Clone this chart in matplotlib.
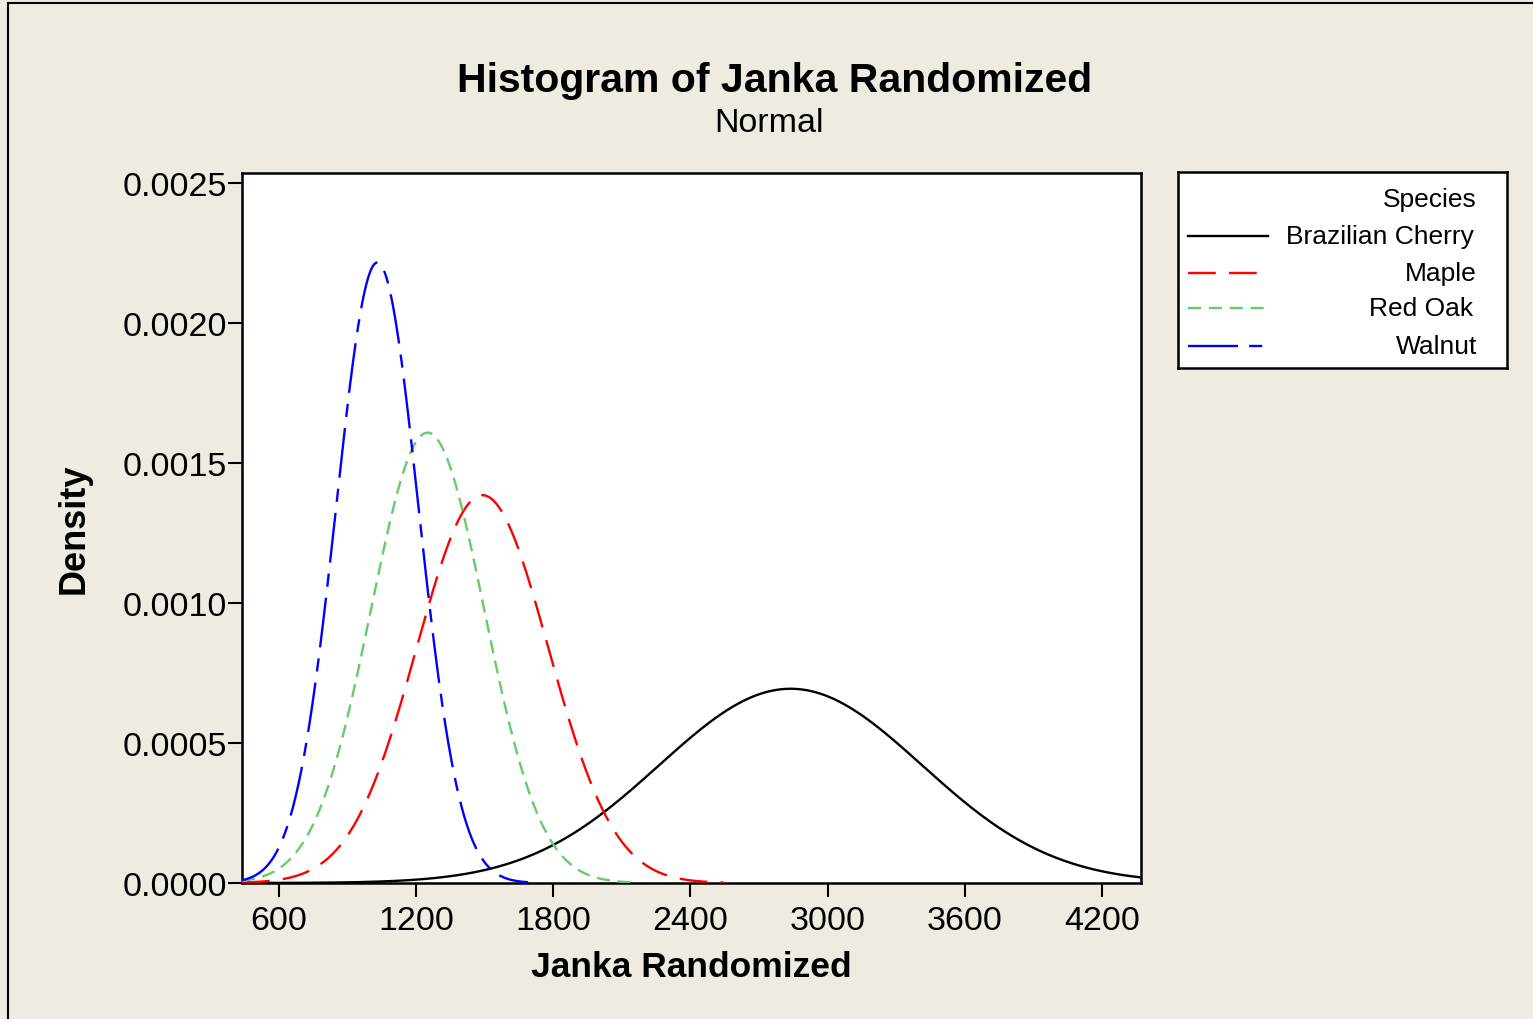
import numpy as np
import matplotlib
matplotlib.use("Agg")
import matplotlib.pyplot as plt
from matplotlib.lines import Line2D

plt.rcParams['lines.scale_dashes'] = False
plt.rcParams['font.family'] = ['Liberation Sans', 'DejaVu Sans']

# ---- data (normal fits) ----
species = ["Brazilian Cherry", "Maple", "Red Oak", "Walnut"]
means = [2838, 1490, 1250, 1030]
sds = [575, 288, 248, 180]
x_start = [438, 438, 438, 438]
x_end = [4371, 2545, 2150, 1690]
colors = ["#000000", "#FF0000", "#66CC66", "#0000FF"]
dashes = [None, (20, 9.5), (9.5, 5.5), (36, 8, 9.5, 8)]

x_ticks = [600, 1200, 1800, 2400, 3000, 3600, 4200]
y_ticks = [0.0000, 0.0005, 0.0010, 0.0015, 0.0020, 0.0025]

W, H = 1533, 1020
bg = "#EFEBE0"
fig = plt.figure(figsize=(W / 100, H / 100), dpi=100, facecolor=bg)

# figure border (left and top visible)
fig.add_artist(Line2D([7.5 / W, 7.5 / W], [0, 1 - 3.5 / H], transform=fig.transFigure, color="black", lw=1.5))
fig.add_artist(Line2D([7.5 / W, 1], [1 - 3.5 / H, 1 - 3.5 / H], transform=fig.transFigure, color="black", lw=1.5))

ax = fig.add_axes([242 / W, 1 - 884 / H, (1141 - 242) / W, (884 - 174) / H])
ax.set_facecolor("white")

for name, m, s, x0, x1, c, d in zip(species, means, sds, x_start, x_end, colors, dashes):
    x = np.linspace(x0, x1, 600)
    y = np.exp(-0.5 * ((x - m) / s) ** 2) / (s * np.sqrt(2 * np.pi))
    ln, = ax.plot(x, y, color=c, lw=1.7, zorder=3)
    if d is not None:
        ln.set_dashes(d)

ax.set_xlim(438, 4371)
ax.set_ylim(0, 0.002536)
ax.set_xticks(x_ticks)
ax.set_xticklabels([str(v) for v in x_ticks])
ax.set_yticks(y_ticks)
ax.set_yticklabels([f"{v:.4f}" for v in y_ticks])
ax.tick_params(axis="both", direction="out", length=10, width=1.5, labelsize=24.5, colors="black")
ax.tick_params(axis="y", pad=1)
ax.tick_params(axis="x", pad=6)
for sp in ax.spines.values():
    sp.set_linewidth(1.8)

ax.set_xlabel("Janka Randomized", fontsize=25.5, fontweight="bold", labelpad=10)
ax.set_ylabel("Density", fontsize=26, fontweight="bold", labelpad=22)

fig.text(775 / W, 1 - 81 / H, "Histogram of Janka Randomized", ha="center", va="center",
         fontsize=29.5, fontweight="bold")
fig.text(769 / W, 1 - 124 / H, "Normal", ha="center", va="center", fontsize=24.5)

# ---- legend box ----
lx0, lx1, ly0, ly1 = 1178, 1507, 173, 369
lax = fig.add_axes([lx0 / W, 1 - ly1 / H, (lx1 - lx0) / W, (ly1 - ly0) / H])
lax.set_xlim(lx0, lx1)
lax.set_ylim(ly1, ly0)
lax.set_xticks([])
lax.set_yticks([])
lax.set_facecolor("white")
for sp in lax.spines.values():
    sp.set_linewidth(1.8)
lax.text(1477, 200, "Species", ha="right", va="center", fontsize=19)
rows_y = [237, 274, 309, 347]
rows_r = [1474, 1477, 1473, 1477]
for name, c, d, yy, rr in zip(species, colors, dashes, rows_y, rows_r):
    ln, = lax.plot([1188, 1268], [yy, yy], color=c, lw=1.7)
    if d is not None:
        ln.set_dashes(d)
    lax.text(rr, yy, name, ha="right", va="center", fontsize=19)

fig.savefig("out.png", dpi=100, facecolor=bg)
